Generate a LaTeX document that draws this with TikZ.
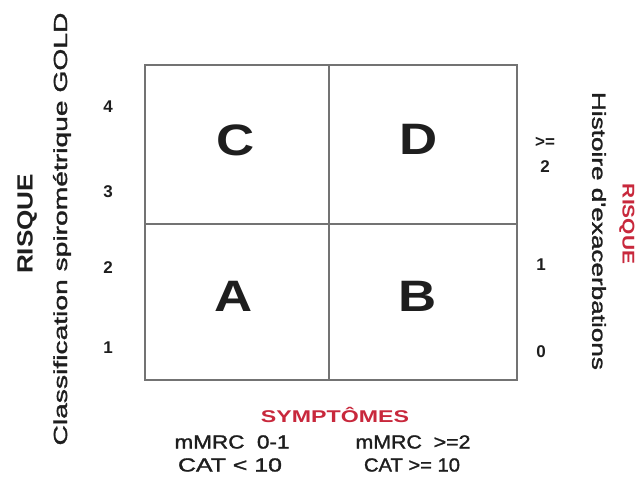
\documentclass[tikz,border=0pt]{standalone}
\usepackage{fontspec}
\setmainfont{Liberation Sans}
\newfontfamily\semib{Liberation Sans}[FakeBold=1.4]
\usepackage{graphicx}
\definecolor{riskred}{RGB}{200,40,60}
\definecolor{ink}{RGB}{30,30,30}
\definecolor{frame}{RGB}{115,115,115}
\newcommand{\fitw}[2]{\resizebox{#1}{\height}{#2}}
\begin{document}
\begin{tikzpicture}[x=1pt,y=-1pt,
  every node/.style={inner sep=0pt,outer sep=0pt,text=ink},
  big/.style={font=\fontsize{44}{44}\selectfont\bfseries},
  num/.style={font=\fontsize{17}{17}\selectfont\bfseries},
  lab/.style={font=\fontsize{19}{19}\selectfont\semib},
  redlab/.style={font=\fontsize{17}{17}\selectfont\bfseries,text=riskred},
  outer/.style={draw=frame,line width=2.4pt},
  inner/.style={draw=frame,line width=1.4pt}]
\useasboundingbox (0,0) rectangle (638,486);
% grid
\draw[inner] (329,65) -- (329,380);
\draw[inner] (145,224) -- (517,224);
\draw[outer] (145,65) rectangle (517,380);
% quadrant letters
\node[big] (C) at (236,140) {\scalebox{1.2}[1]{C}};
\node[big] (D) at (419,139) {\scalebox{1.2}[1]{D}};
\node[big] (A) at (234,296) {\scalebox{1.2}[1]{A}};
\node[big] (B) at (418,296) {\scalebox{1.2}[1]{B}};
% right axis numbers
\node[num] (ge) at (545,142) {>=};
\node[num] (e2) at (545,167) {2};
\node[num] (e1) at (541,265) {1};
\node[num] (e0) at (541,352) {0};
% left axis numbers
\node[num] (n4) at (108,107) {4};
\node[num] (n3) at (108,192) {3};
\node[num] (n2) at (108,268) {2};
\node[num] (n1) at (108,348) {1};
% left axis labels
\node[font=\fontsize{22}{22}\selectfont\bfseries,rotate=90] (risqL) at (27,224) {\fitw{100pt}{RISQUE}};
\node[lab,rotate=90] (gold) at (62,229) {\fitw{433pt}{Classification spirométrique GOLD}};
% right axis labels
\node[lab,rotate=-90] (hist) at (599,231) {\fitw{278pt}{Histoire d'exacerbations}};
\node[redlab,rotate=-90] (risqR) at (627,224) {\fitw{80pt}{RISQUE}};
% bottom axis
\node[redlab] (sym) at (335,415) {\fitw{148pt}{SYMPTÔMES}};
\node[lab] (m1) at (232,442) {\fitw{115pt}{mMRC~~0-1}};
\node[lab] (c1) at (230,465) {\fitw{104pt}{CAT < 10}};
\node[lab] (m2) at (413,442) {\fitw{115pt}{mMRC~~>=2}};
\node[lab] (c2) at (412,465) {\fitw{96pt}{CAT >= 10}};
\end{tikzpicture}
\end{document}
